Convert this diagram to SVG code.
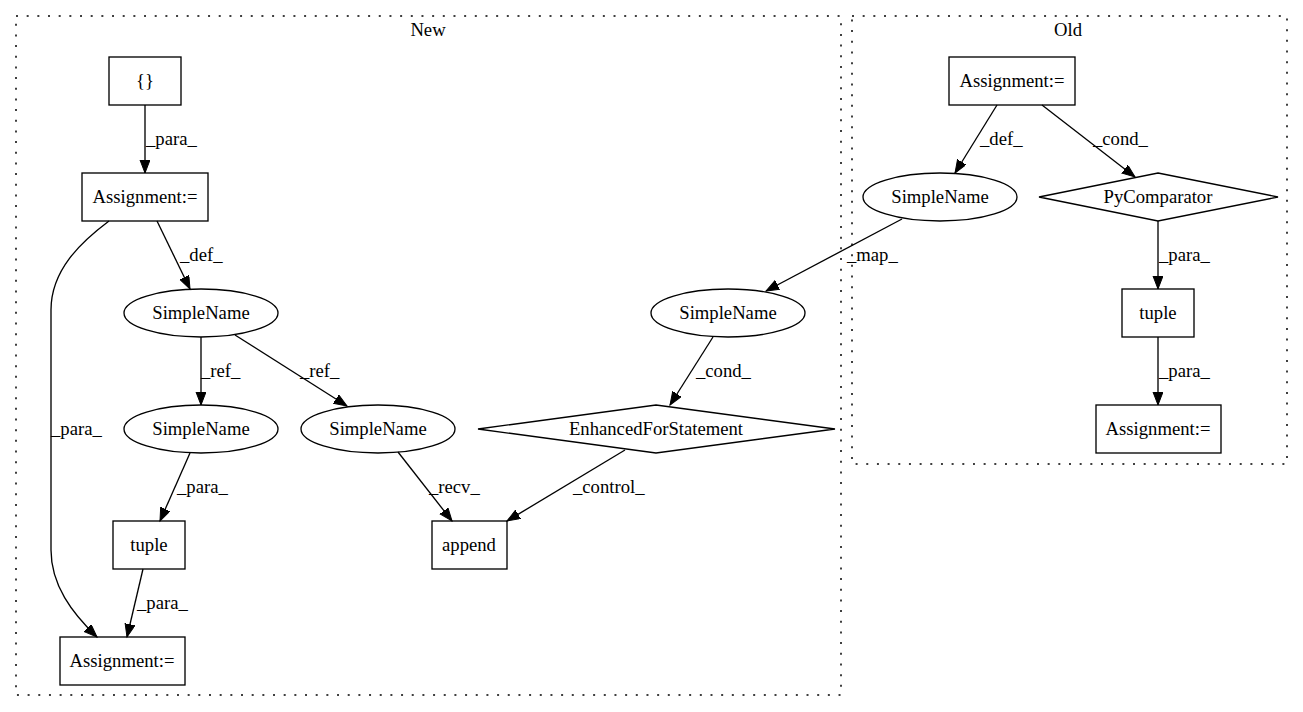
<svg xmlns="http://www.w3.org/2000/svg" width="1303" height="712" viewBox="0 0 1303 712">
<style>
text{font-family:"Liberation Serif","Times New Roman",serif;font-size:18.67px;fill:#000}
.n{text-anchor:middle}
.shape{fill:none;stroke:#000;stroke-width:1.33}
.cl{fill:none;stroke:#000;stroke-width:1.5;stroke-dasharray:2,8.67}
.e{fill:none;stroke:#000;stroke-width:1.33;marker-end:url(#ah)}
</style>
<defs>
<marker id="ah" markerUnits="userSpaceOnUse" markerWidth="15" markerHeight="12" refX="13" refY="5" orient="auto">
<path d="M0,0 L13,5 L0,10 z" fill="#000" stroke="#000" stroke-width="1"/>
</marker>
</defs>
<rect width="1303" height="712" fill="#fff"/>
<g id="cluster-new">
<rect class="cl" x="16" y="16" width="825" height="679"/>
<text class="n" x="428" y="36">New</text>
</g>
<g id="cluster-old">
<rect class="cl" x="852" y="16" width="435" height="448"/>
<text class="n" x="1068" y="36">Old</text>
</g>
<g id="connectors">
<path class="e" d="M145,105 L145,173"/>
<text x="146" y="145">_para_</text>
<path class="e" d="M157,221 L190,289"/>
<text x="180" y="261">_def_</text>
<path class="e" d="M109,221 C81,242 51,270 51,310 L51,550 C51,585 72,613 97,637"/>
<text x="51" y="435">_para_</text>
<path class="e" d="M201,337 L201,405"/>
<text x="201" y="377">_ref_</text>
<path class="e" d="M235,335 L347,406"/>
<text x="300" y="377">_ref_</text>
<path class="e" d="M190,453 L160,521"/>
<text x="177" y="493">_para_</text>
<path class="e" d="M143,569 L127,637"/>
<text x="137" y="609">_para_</text>
<path class="e" d="M398,452 L452,521"/>
<text x="429" y="493">_recv_</text>
<path class="e" d="M625,450 L507,521"/>
<text x="573" y="493">_control_</text>
<path class="e" d="M713,337 L670,405"/>
<text x="696" y="377">_cond_</text>
<path class="e" d="M902,219 L766,291"/>
<text x="847" y="261">_map_</text>
<path class="e" d="M997,105 L955,173"/>
<text x="980" y="145">_def_</text>
<path class="e" d="M1042,105 L1135,177"/>
<text x="1093" y="145">_cond_</text>
<path class="e" d="M1158,221 L1158,289"/>
<text x="1159" y="261">_para_</text>
<path class="e" d="M1158,337 L1158,405"/>
<text x="1159" y="377">_para_</text>
</g>
<g id="n-braces"><rect class="shape" x="109" y="57" width="72" height="48"/><text class="n" x="145" y="87">{}</text></g>
<g id="n-assign1"><rect class="shape" x="82" y="173" width="126" height="48"/><text class="n" x="145" y="203">Assignment:=</text></g>
<g id="n-sn-def"><ellipse class="shape" cx="201" cy="313" rx="77" ry="24"/><text class="n" x="201" y="319">SimpleName</text></g>
<g id="n-sn-ref1"><ellipse class="shape" cx="201" cy="429" rx="77" ry="24"/><text class="n" x="201" y="435">SimpleName</text></g>
<g id="n-sn-ref2"><ellipse class="shape" cx="378" cy="429" rx="77" ry="24"/><text class="n" x="378" y="435">SimpleName</text></g>
<g id="n-tuple-new"><rect class="shape" x="113" y="521" width="72" height="48"/><text class="n" x="149" y="551">tuple</text></g>
<g id="n-assign2"><rect class="shape" x="60" y="637" width="125" height="48"/><text class="n" x="122" y="667">Assignment:=</text></g>
<g id="n-append"><rect class="shape" x="432" y="521" width="75" height="48"/><text class="n" x="469" y="551">append</text></g>
<g id="n-efs"><polygon class="shape" points="656,405 835,429 656,453 478,429"/><text class="n" x="656" y="435">EnhancedForStatement</text></g>
<g id="n-sn-map"><ellipse class="shape" cx="728" cy="313" rx="77" ry="24"/><text class="n" x="728" y="319">SimpleName</text></g>
<g id="n-old-assign1"><rect class="shape" x="949" y="57" width="126" height="48"/><text class="n" x="1012" y="87">Assignment:=</text></g>
<g id="n-old-sn"><ellipse class="shape" cx="940" cy="197" rx="77" ry="24"/><text class="n" x="940" y="203">SimpleName</text></g>
<g id="n-pycomp"><polygon class="shape" points="1158,173 1278,197 1158,221 1039,197"/><text class="n" x="1158" y="203">PyComparator</text></g>
<g id="n-old-tuple"><rect class="shape" x="1122" y="289" width="72" height="48"/><text class="n" x="1158" y="319">tuple</text></g>
<g id="n-old-assign2"><rect class="shape" x="1096" y="405" width="125" height="48"/><text class="n" x="1158" y="435">Assignment:=</text></g>
</svg>
